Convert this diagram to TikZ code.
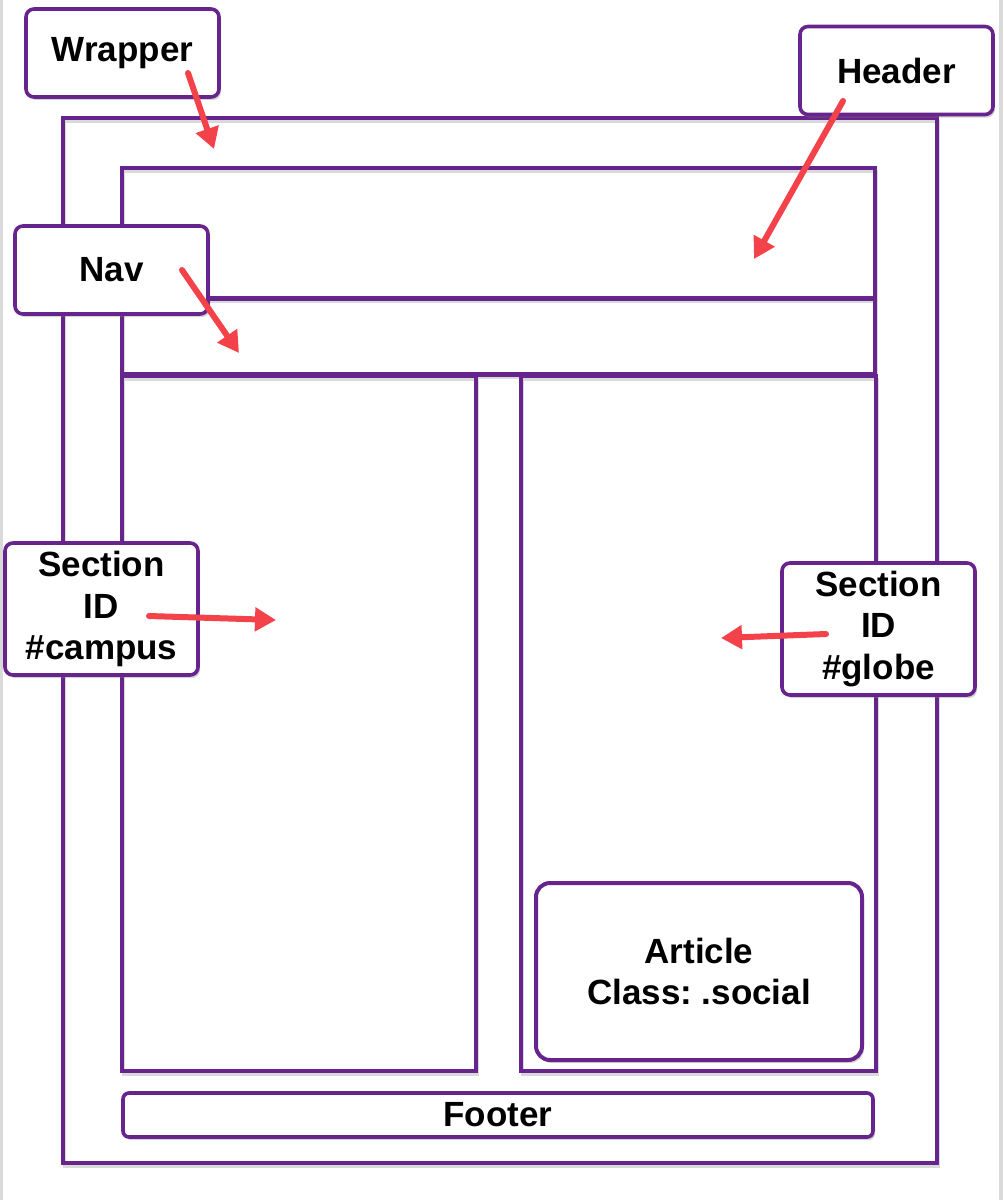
\documentclass[tikz,border=0pt]{standalone}
\usepackage{fontspec}
\setmainfont{Liberation Sans}
\usepackage{xcolor}
\usetikzlibrary{arrows.meta,positioning,calc,shadows}
\definecolor{purp}{RGB}{102,36,140}
\definecolor{arrred}{RGB}{244,66,74}
\frenchspacing
\tikzset{
  frm/.style={draw=purp,line width=3.6pt,inner sep=0pt,
    preaction={draw=gray!30,line width=3pt,transform canvas={xshift=1.5pt,yshift=-3pt}}},
  lbl/.style={draw=purp,line width=3.6pt,fill=white,rounded corners=8pt,
    minimum width=193pt,minimum height=88pt,inner sep=0pt,align=center,
    font=\fontsize{35}{41.5}\selectfont\bfseries,
    drop shadow={shadow xshift=2pt,shadow yshift=-3pt,opacity=0.35}},
  pt/.style={draw=arrred,line width=6pt,line cap=round,
    -{Triangle[length=21pt,width=23pt]}},
}

\begin{document}
\begin{tikzpicture}[x=1pt,y=-1pt]
  \useasboundingbox (0,0) rectangle (1004,1200);
  \draw[gray!30,line width=3pt] (1.5,0) -- (1.5,1200);
  \draw[gray!30,line width=4pt] (1001,0) -- (1001,1200);
  % page frames
  \node[frm,minimum width=874pt,minimum height=1045pt] (wrap) at (500,640.5){};
  \node[frm,minimum width=753pt,minimum height=130pt] (head) at (498.5,233){};
  \node[frm,line width=4.5pt,minimum width=753pt,minimum height=76pt] (nav) at (498.5,336.5){};
  \node[frm,minimum width=354pt,minimum height=695pt] (campus) at (299,723.5){};
  \node[frm,minimum width=355pt,minimum height=695pt] (globe) at (698.5,723.5){};
  \node[lbl,line width=4pt,rounded corners=14pt,minimum width=326pt,minimum height=177pt] (art) at (699,971.5)
    {Article\\Class: .social};
  \node[lbl,rounded corners=6pt,minimum width=750pt,minimum height=44pt] (foot) at (498,1115){Footer};
  % labels
  \node[lbl] (wraplbl) at (122.5,53){Wrapper};
  \node[lbl] (headlbl) at (896.5,70.5){Header};
  \node[lbl] (navlbl) at (111.5,270){Nav};
  \node[lbl,minimum height=132pt] (camplbl) at (101.5,609){Section\\ID\\\#campus};
  \node[lbl,minimum height=132pt] (globlbl) at (878.5,629){Section\\ID\\\#globe};
  % arrows
  \coordinate (w1) at (188,73);  \coordinate (w2) at (214,149);
  \coordinate (h1) at (843,101); \coordinate (h2) at (754,259);
  \coordinate (n1) at (182,270); \coordinate (n2) at (239,353);
  \coordinate (c1) at (149,616); \coordinate (c2) at (276,620);
  \coordinate (g1) at (826,634); \coordinate (g2) at (721,638);
  \draw[pt] (w1) -- (w2);
  \draw[pt] (h1) -- (h2);
  \draw[pt] (n1) -- (n2);
  \draw[pt] (c1) -- (c2);
  \draw[pt] (g1) -- (g2);
\end{tikzpicture}
\end{document}
